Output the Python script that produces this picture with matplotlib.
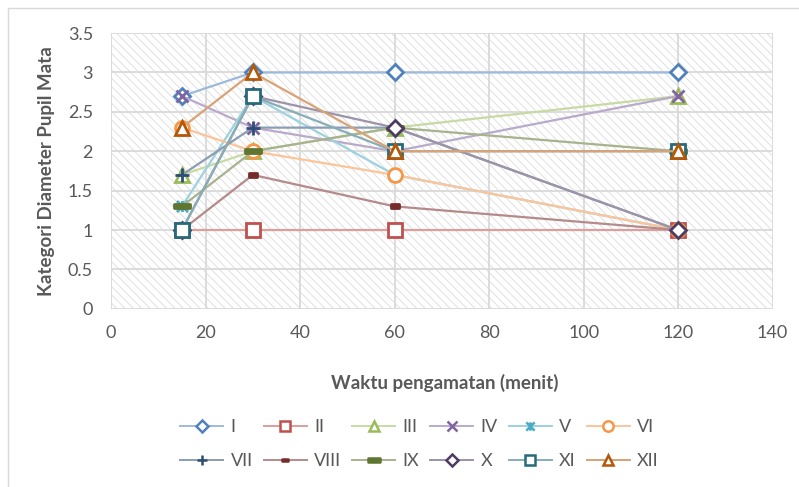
import numpy as np
import matplotlib
matplotlib.use("Agg")
import matplotlib.pyplot as plt
from matplotlib.path import Path
from matplotlib.patches import Rectangle
from matplotlib.lines import Line2D
import matplotlib.colors as mcolors

plt.rcParams['font.family'] = ['Lato', 'DejaVu Sans']
plt.rcParams['hatch.linewidth'] = 0.6

# data
waktu = [15, 30, 60, 120]
labels = ['I', 'II', 'III', 'IV', 'V', 'VI', 'VII', 'VIII', 'IX', 'X', 'XI', 'XII']
s_I = [2.7, 3, 3, 3]
s_II = [1, 1, 1, 1]
s_III = [1.7, 2, 2.3, 2.7]
s_IV = [2.7, 2.3, 2, 2.7]
s_V = [1.3, 2.7, 1.7, 1]
s_VI = [2.3, 2, 1.7, 1]
s_VII = [1.7, 2.3, 2.3, 1]
s_VIII = [1, 1.7, 1.3, 1]
s_IX = [1.3, 2, 2.3, 2]
s_X = [1, 2.7, 2.3, 1]
s_XI = [1, 2.7, 2, 2]
s_XII = [2.3, 3, 2, 2]
series = [s_I, s_II, s_III, s_IV, s_V, s_VI, s_VII, s_VIII, s_IX, s_X, s_XI, s_XII]

colors = ['#4F81BD', '#C0504D', '#9BBB59', '#8064A2', '#4BACC6', '#F79646',
          '#2C4D75', '#772C2A', '#5F7530', '#4D3B62', '#276A7C', '#B65708']

star = Path([(-1, -1), (1, 1), (-1, 1), (1, -1), (0, -1), (0, 1)],
            [Path.MOVETO, Path.LINETO, Path.MOVETO, Path.LINETO, Path.MOVETO, Path.LINETO])
short_dash = Path([(-1, -0.45), (1, -0.45), (1, 0.45), (-1, 0.45), (-1, -0.45)],
                  [Path.MOVETO, Path.LINETO, Path.LINETO, Path.LINETO, Path.CLOSEPOLY])
long_dash = Path([(-1, -0.3), (1, -0.3), (1, 0.3), (-1, 0.3), (-1, -0.3)],
                 [Path.MOVETO, Path.LINETO, Path.LINETO, Path.LINETO, Path.CLOSEPOLY])

# marker, size, face filled?
mk = [('D', 8.5, False), ('s', 10, False), ('^', 10, False), ('x', 9, False),
      (star, 8, False), ('o', 10, False), ('+', 10, False), (short_dash, 6, True),
      (long_dash, 11, True), ('D', 8.5, False), ('s', 10, False), ('^', 10, False)]


def light(c, f=0.55):
    r = np.array(mcolors.to_rgb(c))
    return tuple(r * f + (1 - f))


fig = plt.figure(figsize=(7.99, 4.87), dpi=100)
ax = fig.add_axes([0.139, 0.366, 0.828, 0.566])

ax.add_patch(Rectangle((0, 0), 140, 3.5, facecolor='white', edgecolor='#dcdcdc',
                       hatch='\\\\\\\\', linewidth=0, zorder=0))

handles = []
for lab, ys, c, (m, ms, filled) in zip(labels, series, colors, mk):
    fc = c if filled else 'white'
    ax.plot(waktu, ys, color=light(c), linewidth=1.6, marker=m, markersize=ms,
            markeredgecolor=c, markerfacecolor=fc, markeredgewidth=2.0, zorder=3)
    handles.append(Line2D([], [], color=light(c), linewidth=1.4, marker=m, markersize=ms * 0.75,
                          markeredgecolor=c, markerfacecolor=fc, markeredgewidth=1.8))

ax.set_xlim(0, 140)
ax.set_ylim(0, 3.5)
ax.set_xticks(np.arange(0, 141, 20))
ax.set_yticks(np.arange(0, 3.51, 0.5))
ax.set_yticklabels(['0', '0.5', '1', '1.5', '2', '2.5', '3', '3.5'])
ax.grid(True, color='#d9d9d9', linewidth=1.3, zorder=1)
ax.set_axisbelow(True)
for sp in ax.spines.values():
    sp.set_visible(False)
ax.tick_params(length=0, labelsize=13, labelcolor='#595959')
ax.tick_params(axis='y', pad=13)
ax.tick_params(axis='x', pad=12)

ax.set_ylabel('Kategori Diameter Pupil Mata', fontsize=13.5, fontweight='bold',
              color='#595959', labelpad=9)
fig.text(0.557, 1 - 383 / 487, 'Waktu pengamatan (menit)', fontsize=13.5, fontweight='bold',
         color='#595959', ha='center', va='center')

# legend filled row by row
order = [0, 6, 1, 7, 2, 8, 3, 9, 4, 10, 5, 11]
fig.legend([handles[i] for i in order], [labels[i] for i in order], ncol=6, loc='center',
           bbox_to_anchor=(0.525, 1 - 444 / 487),
           frameon=False, fontsize=13, handlelength=2.4, handletextpad=0.4,
           columnspacing=0.6, labelspacing=1.0, labelcolor='#595959')

# chart border
fig.add_artist(Line2D([8 / 799, 8 / 799], [0, 1 - 8 / 487], color='#d9d9d9', linewidth=1,
                      transform=fig.transFigure))
fig.add_artist(Line2D([8 / 799, 1], [1 - 8 / 487, 1 - 8 / 487], color='#d9d9d9', linewidth=1,
                      transform=fig.transFigure))

fig.savefig('out.png', dpi=100)
